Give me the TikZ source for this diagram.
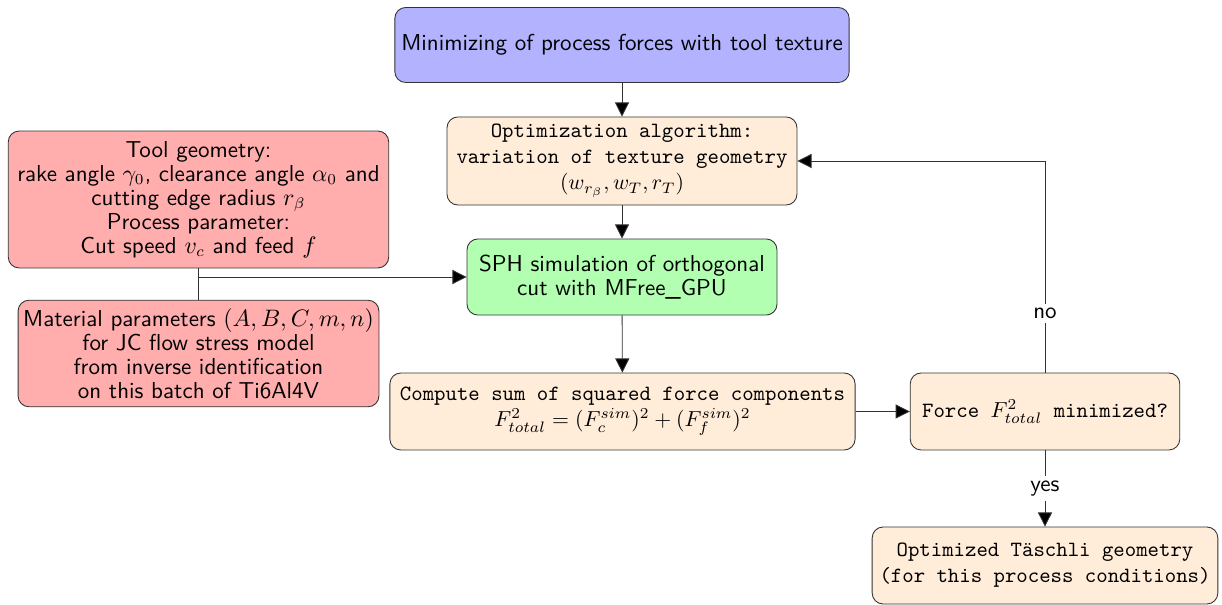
\documentclass[tikz,border=0pt]{standalone}
\usepackage{amsmath, amssymb}
\usepackage{tikz}
\usetikzlibrary{arrows.meta}
\newcommand{\boxfont}{\sffamily\fontsize{10.6}{11}\selectfont}
\tikzstyle{stepBox}=[shape = rectangle, rounded corners = 5pt, draw = black!80, align = center, minimum height = 35.4pt, inner sep = 2pt]
\tikzstyle{goalBox}=[stepBox, fill = blue!30, font = \boxfont]
\tikzstyle{inputBox}=[stepBox, fill = red!32, font = \boxfont]
\tikzstyle{simBox}=[stepBox, fill = green!30, font = \boxfont]
\tikzstyle{loopBox}=[stepBox, fill = orange!15, font = \ttfamily]

\begin{document}
\begin{tikzpicture}[x = 0.46pt, y = -0.46pt]
\tikzstyle{flow} = [draw = black!80, -{Triangle[length = 6.5pt, width = 6.5pt, fill = black]}]
\tikzstyle{plain} = [draw = black!80]
\tikzstyle{answer} = [fill = white, font = \boxfont, inner sep = 2pt]
\useasboundingbox (0,0) rectangle (1222,605);
\node[goalBox, minimum width = 209pt, minimum height = 34.5pt] (goal) at (622,45) {Minimizing of process forces with tool texture};
\node[loopBox, minimum width = 161pt, minimum height = 40.5pt] (optim) at (622,161) {Optimization algorithm:\\variation of texture geometry\\$(w_{r_\beta}, w_T, r_T)$};
\node[simBox, minimum width = 142.6pt, minimum height = 35pt] (sph) at (622,277) {SPH simulation of orthogonal\\cut with MFree\_GPU};
\node[inputBox, minimum width = 175pt, minimum height = 63pt] (tool) at (198.5,199.5) {Tool geometry:\\rake angle $\gamma_0$, clearance angle $\alpha_0$ and\\cutting edge radius $r_\beta$\\Process parameter:\\Cut speed $v_c$ and feed $f$};
\node[inputBox, minimum width = 166pt, minimum height = 49pt] (mat) at (198.5,353.5) {Material parameters $(A,B,C,m,n)$\\for JC flow stress model\\from inverse identification\\on this batch of Ti6Al4V};
\node[loopBox, minimum width = 214pt] (sum) at (622.5,411.5) {Compute sum of squared force components\\$F^2_{total} = (F^{sim}_c)^2 + (F^{sim}_f)^2$};
\node[loopBox, minimum width = 124pt] (check) at (1045,411.5) {Force $F^2_{total}$ minimized?};
\node[loopBox, minimum width = 159pt] (result) at (1045,565.5) {Optimized Täschli geometry\\(for this process conditions)};
\coordinate (joint) at (tool.south |- sph.west);
\draw[flow] (goal) -- (optim);
\draw[flow] (optim) -- (sph);
\draw[flow] (sph) -- (sum);
\draw[flow] (sum) -- (check);
\draw[flow] (check) -- node[answer] {yes} (result);
\draw[flow] (check.north) |- node[answer, pos = 0.14] {no} (optim.east);
\draw[plain] (tool) -- (mat);
\draw[flow] (joint) -- (sph.west);
\end{tikzpicture}
\end{document}
